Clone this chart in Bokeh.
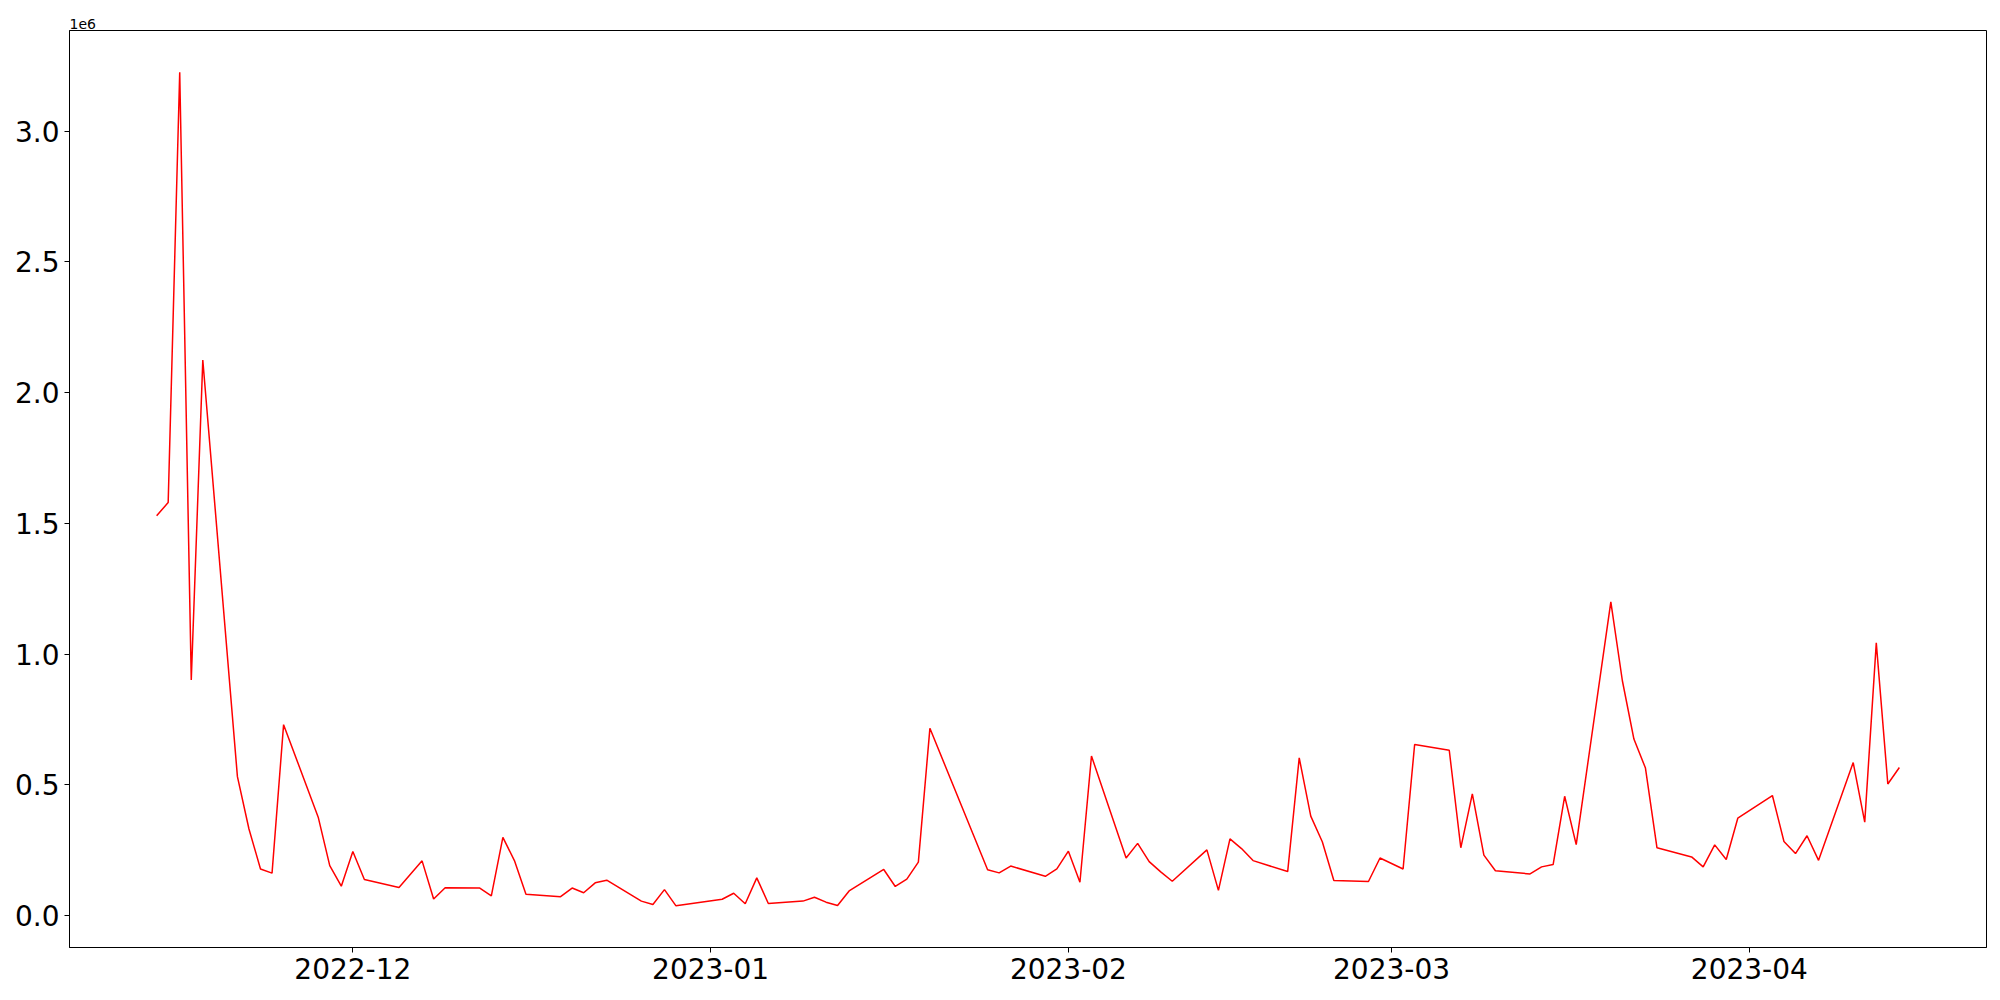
import pandas as pd
from bokeh.plotting import figure
from bokeh.models import (Range1d, MonthsTicker, DatetimeTickFormatter, FixedTicker,
                          CustomJSTickFormatter, ColumnDataSource)
from bokeh.embed import file_html
from bokeh.resources import INLINE

dates = [
    "2022-11-14", "2022-11-15", "2022-11-16", "2022-11-17", "2022-11-18",
    "2022-11-21", "2022-11-22", "2022-11-23", "2022-11-24", "2022-11-25",
    "2022-11-28", "2022-11-29", "2022-11-30", "2022-12-01", "2022-12-02",
    "2022-12-05", "2022-12-07", "2022-12-08", "2022-12-09",
    "2022-12-12", "2022-12-13", "2022-12-14", "2022-12-15", "2022-12-16",
    "2022-12-19", "2022-12-20", "2022-12-21", "2022-12-22", "2022-12-23",
    "2022-12-26", "2022-12-27", "2022-12-28", "2022-12-29",
    "2023-01-02", "2023-01-03", "2023-01-04", "2023-01-05", "2023-01-06",
    "2023-01-09", "2023-01-10", "2023-01-11", "2023-01-12", "2023-01-13",
    "2023-01-16", "2023-01-17", "2023-01-18", "2023-01-19", "2023-01-20",
    "2023-01-25", "2023-01-26", "2023-01-27",
    "2023-01-30", "2023-01-31", "2023-02-01", "2023-02-02", "2023-02-03",
    "2023-02-06", "2023-02-07", "2023-02-08", "2023-02-09", "2023-02-10",
    "2023-02-13", "2023-02-14", "2023-02-15", "2023-02-16", "2023-02-17",
    "2023-02-20", "2023-02-21", "2023-02-22", "2023-02-23", "2023-02-24",
    "2023-02-27", "2023-02-28", "2023-03-02", "2023-03-03",
    "2023-03-06", "2023-03-07", "2023-03-08", "2023-03-09", "2023-03-10",
    "2023-03-13", "2023-03-14", "2023-03-15", "2023-03-16", "2023-03-17",
    "2023-03-20", "2023-03-21", "2023-03-22", "2023-03-23", "2023-03-24",
    "2023-03-27", "2023-03-28", "2023-03-29", "2023-03-30", "2023-03-31",
    "2023-04-03", "2023-04-04", "2023-04-05", "2023-04-06", "2023-04-07",
    "2023-04-10", "2023-04-11", "2023-04-12", "2023-04-13", "2023-04-14",
]

values = [
    1529000, 1580000, 3226000, 901000, 2125000,
    531000, 331000, 178000, 162000, 730000,
    376000, 191000, 112000, 245000, 138000,
    107000, 209000, 63000, 106000,
    105000, 75000, 299000, 210000, 81000,
    72000, 105000, 87000, 125000, 135000,
    55000, 42000, 99000, 37000,
    62000, 85000, 45000, 144000, 46000,
    55000, 70000, 51000, 38000, 94000,
    176000, 111000, 139000, 204000, 716000,
    175000, 163000, 189000,
    150000, 178000, 246000, 127000, 610000,
    220000, 276000, 206000, 167000, 131000,
    251000, 96000, 293000, 256000, 210000,
    168000, 603000, 380000, 282000, 134000,
    130000, 220000, 178000, 654000,
    632000, 259000, 465000, 231000, 171000,
    159000, 186000, 195000, 456000, 271000,
    1200000, 898000, 675000, 564000, 259000,
    224000, 186000, 270000, 214000, 372000,
    459000, 283000, 237000, 305000, 211000,
    585000, 357000, 1043000, 503000, 566000,
]

y_ticks = [0, 500000, 1000000, 1500000, 2000000, 2500000, 3000000]
offset_text = "1e6"

x = pd.to_datetime(pd.Series(dates))
span = x.max() - x.min()
x0 = (x.min() - span * 0.05).to_pydatetime()
x1 = (x.max() + span * 0.05).to_pydatetime()
vmin, vmax = min(values), max(values)
vspan = vmax - vmin
y0 = vmin - 0.05 * vspan
y1 = vmax + 0.05 * vspan

source = ColumnDataSource(data=dict(x=x, y=values))

FONT = "DejaVu Sans"

p = figure(width=1992, height=992, x_axis_type="datetime",
           output_backend="svg", toolbar_location=None,
           x_range=Range1d(x0, x1), y_range=Range1d(y0, y1),
           min_border_left=69, min_border_right=6,
           min_border_top=30, min_border_bottom=45)

p.title.text = offset_text
p.title.align = "left"
p.title.text_font = FONT
p.title.text_font_size = "14px"
p.title.text_font_style = "normal"
p.title.text_color = "black"
p.title.standoff = 3
p.title.offset = 0

p.line("x", "y", source=source, line_color="red", line_width=1.5)

p.grid.visible = False
p.outline_line_color = "black"
p.outline_line_alpha = 1
p.outline_line_width = 1
p.background_fill_color = "white"
p.border_fill_color = "white"

for ax in (p.xaxis[0], p.yaxis[0]):
    ax.major_label_text_font = FONT
    ax.major_label_text_font_size = "28px"
    ax.major_label_text_color = "black"
    ax.major_tick_out = 5
    ax.major_tick_in = 0
    ax.minor_tick_out = 0
    ax.minor_tick_in = 0
    ax.axis_line_color = "black"
    ax.axis_line_width = 1
    ax.major_tick_line_color = "black"
    ax.major_tick_line_width = 1
    ax.major_label_standoff = 5

p.xaxis.ticker = MonthsTicker(months=list(range(12)))
p.xaxis.formatter = DatetimeTickFormatter(
    months="%Y-%m", days="%Y-%m", years="%Y-%m", hours="%Y-%m",
)

p.yaxis.ticker = FixedTicker(ticks=y_ticks)
p.yaxis.formatter = CustomJSTickFormatter(code="return (tick/1e6).toFixed(1);")

open("out.html", "w").write(file_html(p, INLINE))
